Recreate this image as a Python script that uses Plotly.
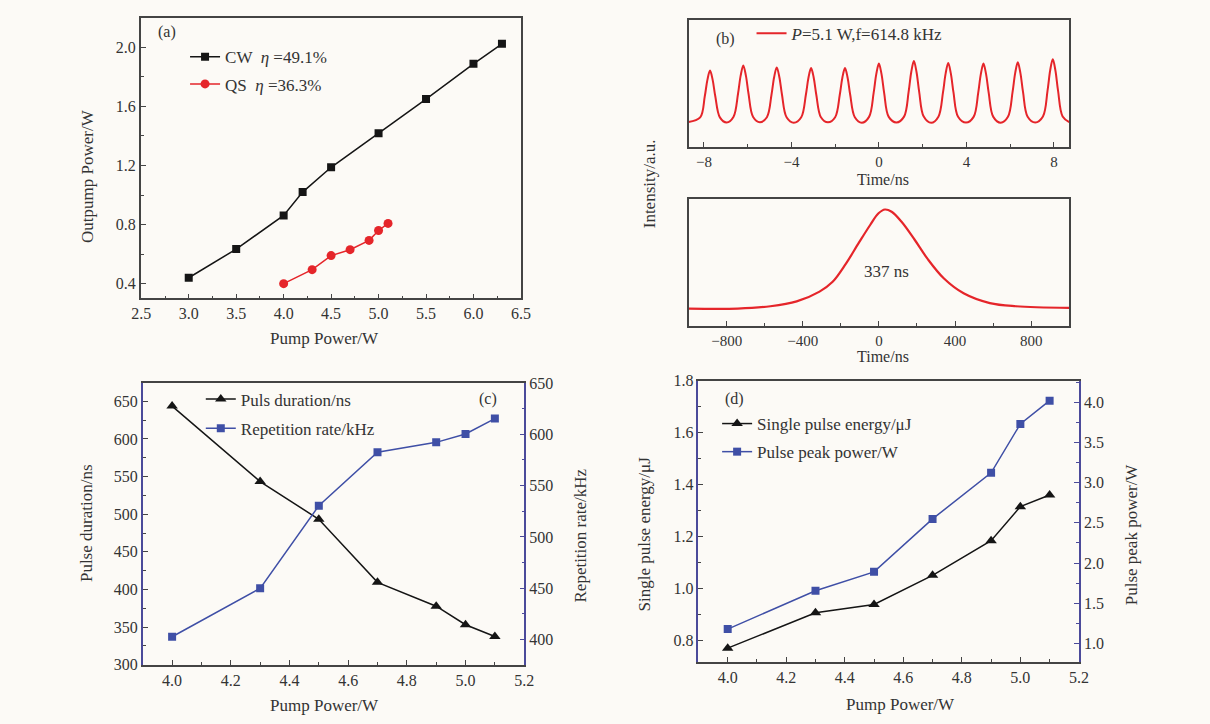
import plotly.graph_objects as go

W, H = 1210, 724

# ---------------- data ----------------
# (a)
cw_pump = [3.0, 3.5, 4.0, 4.2, 4.5, 5.0, 5.5, 6.0, 6.3]
cw_out = [0.44, 0.634, 0.862, 1.02, 1.188, 1.418, 1.65, 1.888, 2.024]
qs_pump = [4.0, 4.3, 4.5, 4.7, 4.9, 5.0, 5.1]
qs_out = [0.40, 0.495, 0.59, 0.63, 0.693, 0.76, 0.808]

# (b) pulse train (edge, then for each pulse 7 points + trough)
train_t = [-8.70,
           -8.17, -7.96, -7.84, -7.72, -7.60, -7.48, -7.27, -6.96,
           -6.65, -6.44, -6.32, -6.20, -6.08, -5.96, -5.75, -5.44,
           -5.12, -4.91, -4.79, -4.67, -4.55, -4.43, -4.22, -3.89,
           -3.55, -3.34, -3.22, -3.10, -2.98, -2.86, -2.65, -2.33,
           -2.00, -1.79, -1.67, -1.55, -1.43, -1.31, -1.10, -0.78,
           -0.45, -0.24, -0.12, 0.00, 0.12, 0.24, 0.45, 0.80,
           1.15, 1.36, 1.48, 1.60, 1.72, 1.84, 2.05, 2.39,
           2.72, 2.93, 3.05, 3.17, 3.29, 3.41, 3.62, 3.98,
           4.33, 4.54, 4.66, 4.78, 4.90, 5.02, 5.23, 5.57,
           5.90, 6.11, 6.23, 6.35, 6.47, 6.59, 6.80, 7.15,
           7.50, 7.71, 7.83, 7.95, 8.07, 8.19, 8.40, 8.70]
train_i = [0.196,
           0.232, 0.398, 0.527, 0.600, 0.527, 0.398, 0.232, 0.192,
           0.235, 0.418, 0.560, 0.640, 0.560, 0.418, 0.235, 0.194,
           0.233, 0.410, 0.548, 0.625, 0.548, 0.410, 0.233, 0.190,
           0.233, 0.408, 0.544, 0.620, 0.544, 0.408, 0.233, 0.193,
           0.233, 0.408, 0.544, 0.620, 0.544, 0.408, 0.233, 0.190,
           0.236, 0.425, 0.572, 0.655, 0.572, 0.425, 0.236, 0.192,
           0.238, 0.435, 0.589, 0.675, 0.589, 0.435, 0.238, 0.189,
           0.237, 0.428, 0.576, 0.660, 0.576, 0.428, 0.237, 0.191,
           0.236, 0.425, 0.572, 0.655, 0.572, 0.425, 0.236, 0.190,
           0.237, 0.430, 0.580, 0.665, 0.580, 0.430, 0.237, 0.192,
           0.239, 0.443, 0.601, 0.690, 0.601, 0.443, 0.239, 0.195]
# (b) single pulse
pulse_t = [-1000, -742, -570, -432, -312, -243, -174, -105, -45, -2, 32, 67,
           118, 187, 256, 342, 445, 583, 720, 1000]
pulse_i = [0.136, 0.136, 0.154, 0.192, 0.269, 0.346, 0.487, 0.654, 0.795, 0.885,
           0.915, 0.897, 0.82, 0.679, 0.526, 0.372, 0.256, 0.179, 0.154, 0.141]

# (c)
pump_c = [4.0, 4.3, 4.5, 4.7, 4.9, 5.0, 5.1]
pulse_dur = [643.7, 543.4, 493.3, 409.5, 377.8, 353.2, 337.6]
rep_rate = [402.7, 449.9, 530.4, 582.6, 592.2, 600.4, 615.4]

# (d)
pump_d = [4.0, 4.3, 4.5, 4.7, 4.9, 5.0, 5.1]
pulse_energy = [0.772, 0.908, 0.94, 1.052, 1.185, 1.316, 1.361]
peak_power = [1.178, 1.655, 1.89, 2.549, 3.123, 3.73, 4.02]

# ---------------- style ----------------
FONT = "Liberation Serif, Tinos, Times New Roman, DejaVu Serif, serif"
TXT = "#333333"
AX = "#444444"
BG = "#fcfaf6"
BLACK = "#151515"
RED = "#e5252a"
BLUE = "#3f4fa6"
BLUEAX = "#4b4a9a"


def px_x(p):
    return p / W


def px_y(p):
    return 1 - p / H


fig = go.Figure()

# (a)
fig.add_trace(go.Scatter(x=cw_pump, y=cw_out, mode="lines+markers",
                         name="CW  <i>η</i> =49.1%", legendgroup="a1",
                         line=dict(color=BLACK, width=1.5),
                         marker=dict(symbol="square", size=8, color=BLACK),
                         xaxis="x", yaxis="y", legend="legend"))
fig.add_trace(go.Scatter(x=qs_pump, y=qs_out, mode="lines+markers",
                         name="QS  <i>η</i> =36.3%", legendgroup="a2",
                         line=dict(color=RED, width=1.5),
                         marker=dict(symbol="circle", size=9, color=RED),
                         xaxis="x", yaxis="y", legend="legend"))
# (b)
fig.add_trace(go.Scatter(x=train_t, y=train_i, mode="lines",
                         name="<i>P</i>=5.1 W,f=614.8 kHz",
                         line=dict(color=RED, width=2, shape="spline", smoothing=1.0),
                         xaxis="x2", yaxis="y2", legend="legend2"))
fig.add_trace(go.Scatter(x=pulse_t, y=pulse_i, mode="lines", showlegend=False,
                         line=dict(color=RED, width=2.2, shape="spline", smoothing=1.0),
                         xaxis="x3", yaxis="y3"))
# (c)
fig.add_trace(go.Scatter(x=pump_c, y=pulse_dur, mode="lines+markers",
                         name="Puls duration/ns", legendgroup="c1",
                         line=dict(color=BLACK, width=1.5),
                         marker=dict(symbol="triangle-up", size=10, color=BLACK),
                         xaxis="x4", yaxis="y4", legend="legend3"))
fig.add_trace(go.Scatter(x=pump_c, y=rep_rate, mode="lines+markers",
                         name="Repetition rate/kHz", legendgroup="c2",
                         line=dict(color=BLUE, width=1.5),
                         marker=dict(symbol="square", size=8, color=BLUE),
                         xaxis="x4", yaxis="y5", legend="legend3"))
# (d)
fig.add_trace(go.Scatter(x=pump_d, y=pulse_energy, mode="lines+markers",
                         name="Single pulse energy/μJ", legendgroup="d1",
                         line=dict(color=BLACK, width=1.5),
                         marker=dict(symbol="triangle-up", size=10, color=BLACK),
                         xaxis="x5", yaxis="y6", legend="legend4"))
fig.add_trace(go.Scatter(x=pump_d, y=peak_power, mode="lines+markers",
                         name="Pulse peak power/W", legendgroup="d2",
                         line=dict(color=BLUE, width=1.5),
                         marker=dict(symbol="square", size=8, color=BLUE),
                         xaxis="x5", yaxis="y7", legend="legend4"))


def axis(domain, rng, dtick, minor_dtick, anchor, mirror=True, color=AX,
         side=None, showlabels=True, ticks="inside", overlaying=None, fmt=None,
         tick0=None, fsize=16):
    d = dict(range=rng, showline=True, linecolor=color, linewidth=1.6,
             mirror=mirror, ticks=ticks, ticklen=5, tickwidth=1.4, tickcolor=color,
             showgrid=False, zeroline=False, anchor=anchor,
             tickfont=dict(family=FONT, size=fsize, color=TXT),
             showticklabels=showlabels)
    if domain is not None:
        d["domain"] = domain
    if dtick is not None:
        d["dtick"] = dtick
    if tick0 is not None:
        d["tick0"] = tick0
    if minor_dtick is not None:
        d["minor"] = dict(dtick=minor_dtick, ticks="inside", ticklen=3,
                          tickwidth=1.2, tickcolor=color, showgrid=False)
    if side:
        d["side"] = side
    if overlaying:
        d["overlaying"] = overlaying
    if fmt:
        d["tickformat"] = fmt
    return d


xa = [px_x(133), px_x(520)]
ya = [px_y(297), px_y(10)]
xb = [px_x(690), px_x(1077)]
yb1 = [px_y(142), px_y(12)]
yb2 = [px_y(325), px_y(195)]
xc = [px_x(135), px_x(523)]
yc = [px_y(672), px_y(383)]
xd = [px_x(700), px_x(1087)]
yd = [px_y(669), px_y(381)]

LEGFONT = dict(family=FONT, size=17, color=TXT)

fig.update_layout(
    width=W, height=H,
    margin=dict(l=0, r=0, t=0, b=0),
    paper_bgcolor=BG, plot_bgcolor=BG,
    font=dict(family=FONT, size=16, color=TXT),
    xaxis=axis(xa, [2.495, 6.505], 0.5, 0.25, "y", fmt=".1f", tick0=2.5),
    yaxis=axis(ya, [0.3, 2.2], 0.4, 0.2, "x", fmt=".1f", tick0=0.4),
    xaxis2=axis(xb, [-8.7, 8.7], 4, 2, "y2", tick0=0, fsize=15),
    yaxis2=axis(yb1, [0, 1], None, None, "x2", showlabels=False, ticks=""),
    xaxis3=axis(xb, [-1000, 1000], 400, 200, "y3", tick0=0, fsize=15),
    yaxis3=axis(yb2, [0, 1], None, None, "x3", showlabels=False, ticks=""),
    xaxis4=axis(xc, [3.9, 5.2005], 0.2, 0.1, "y4", fmt=".1f", tick0=4.0),
    yaxis4=axis(yc, [299.5, 675], 50, 25, "x4", mirror=False, tick0=300),
    yaxis5=axis(None, [375, 650.5], 50, 25, "x4", color=BLUEAX, side="right",
                overlaying="y4", tick0=400),
    xaxis5=axis(xd, [3.9, 5.2005], 0.2, 0.1, "y6", fmt=".1f", tick0=4.0),
    yaxis6=axis(yd, [0.718, 1.8005], 0.2, 0.1, "x5", mirror=False, fmt=".1f", tick0=0.8),
    yaxis7=axis(None, [0.766, 4.27], 0.5, 0.25, "x5", color=BLUEAX, side="right",
                overlaying="y6", fmt=".1f", tick0=1.0),
    legend=dict(x=px_x(178), y=px_y(32), xanchor="left", yanchor="top",
                bgcolor="rgba(0,0,0,0)", font=LEGFONT, tracegroupgap=2),
    legend2=dict(x=px_x(754), y=px_y(8), xanchor="left", yanchor="top",
                 bgcolor="rgba(0,0,0,0)", font=LEGFONT),
    legend3=dict(x=px_x(194), y=px_y(382), xanchor="left", yanchor="top",
                 bgcolor="rgba(0,0,0,0)", font=LEGFONT, tracegroupgap=4),
    legend4=dict(x=px_x(719), y=px_y(407), xanchor="left", yanchor="top",
                 bgcolor="rgba(0,0,0,0)", font=LEGFONT, tracegroupgap=3),
)

annotations = []


def ann(text, x, y, angle=0, size=17, ref="paper", xref=None, yref=None):
    annotations.append(dict(text=text, x=x, y=y, xref=xref or ref, yref=yref or ref,
                            showarrow=False, xanchor="center", yanchor="middle",
                            textangle=angle,
                            font=dict(family=FONT, size=size, color=TXT)))


# axis titles
ann("Outpump Power/W", px_x(78), px_y(172), -90)
ann("Pump Power/W", px_x(320), px_y(338))
ann("Time/ns", px_x(888), px_y(175), size=16)
ann("Time/ns", px_x(888), px_y(356), size=16)
ann("Intensity/a.u.", px_x(650), px_y(180), -90)
ann("Pulse duration/ns", px_x(78), px_y(527), -90)
ann("Repetition rate/kHz", px_x(580), px_y(539), -90)
ann("Pump Power/W", px_x(320), px_y(713))
ann("Single pulse energy/μJ", px_x(645), px_y(538), -90)
ann("Pulse peak power/W", px_x(1140), px_y(538), -90)
ann("Pump Power/W", px_x(905), px_y(712))
# panel labels
ann("(a)", 0.07, 0.95, xref="x domain", yref="y domain", size=16)
ann("(b)", 0.096, 0.85, xref="x2 domain", yref="y2 domain", size=16)
ann("(c)", 0.906, 0.941, xref="x4 domain", yref="y4 domain", size=16)
ann("(d)", 0.096, 0.934, xref="x5 domain", yref="y6 domain", size=16)
# pulse width label
ann("337 ns", 41, 0.431, xref="x3", yref="y3", size=17)

fig.update_layout(annotations=annotations)

fig.write_html("out.html")
